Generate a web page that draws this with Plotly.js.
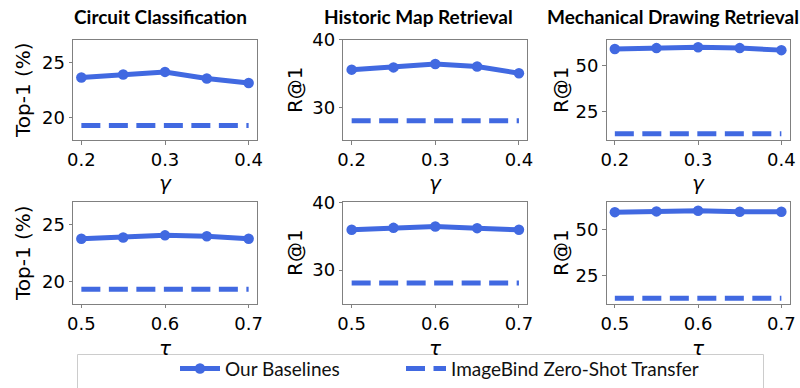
<!DOCTYPE html>
<html>
<head>
<meta charset="utf-8">
<script src="https://cdn.plot.ly/plotly-3.0.1.min.js"></script>
<style>html,body{margin:0;padding:0;background:#fff;}#chart{width:800px;height:388px;}</style>
</head>
<body>
<div id="chart"></div>
<script>
// ---- data ----
const gammaVals = [0.2, 0.25, 0.3, 0.35, 0.4];
const tauVals = [0.5, 0.55, 0.6, 0.65, 0.7];
const panelTitles = ["Circuit Classification", "Historic Map Retrieval", "Mechanical Drawing Retrieval"];
const yAxisLabels = ["Top-1 (%)", "R@1", "R@1"];
const seriesNames = ["Our Baselines", "ImageBind Zero-Shot Transfer"];
const circuitGamma = [23.63, 23.9, 24.13, 23.54, 23.13];
const circuitTau = [23.79, 23.9, 24.08, 24.0, 23.79];
const circuitZeroShot = 19.32;
const mapGamma = [35.63, 35.96, 36.45, 36.1, 35.1];
const mapTau = [35.94, 36.23, 36.42, 36.19, 35.94];
const mapZeroShot = 28.1;
const drawingGamma = [58.8, 59.3, 59.8, 59.3, 58.2];
const drawingTau = [59.3, 59.7, 60.0, 59.5, 59.5];
const drawingZeroShot = 13.0;
const yTicks = [[20, 25], [30, 40], [25, 50]];
const xTicksGamma = [0.2, 0.3, 0.4];
const xTicksTau = [0.5, 0.6, 0.7];

// ---- layout geometry ----
const W = 800, H = 388;
const colPx = [[73, 257], [343.3, 527.3], [606.5, 789.7]];
const rowPx = [[40.7, 142.7], [206, 309.3]];
const yRanges = [[[18, 27], [18.05, 27]], [[25.25, 40], [25.05, 40]], [[9.5, 63.7], [10, 64.6]]];
const titleX = [160.5, 418, 673];
const yLabelX = [23, 295, 561];

const BLUE = "#4169E1";
const rows = [
  {xs: gammaVals, ticks: xTicksGamma, range: [0.19, 0.41], label: "γ", labelY: 186,
   ours: [circuitGamma, mapGamma, drawingGamma]},
  {xs: tauVals, ticks: xTicksTau, range: [0.49, 0.71], label: "τ", labelY: 354,
   ours: [circuitTau, mapTau, drawingTau]}
];
const zeroShot = [circuitZeroShot, mapZeroShot, drawingZeroShot];

const legendFont = {family: "Lato", size: 19, color: "#111"};
const traces = [];
const layout = {
  width: W, height: H, margin: {l: 0, r: 0, t: 0, b: 0},
  paper_bgcolor: "#fff", plot_bgcolor: "#fff",
  font: {family: "DejaVu Sans", size: 18, color: "#000"},
  showlegend: true,
  legend: {orientation: "h", x: 175 / W, xanchor: "left", y: 1 - 375.5 / H, yanchor: "middle",
           font: legendFont, bgcolor: "rgba(0,0,0,0)", itemwidth: 40},
  legend2: {orientation: "h", x: 401 / W, xanchor: "left", y: 1 - 375.5 / H, yanchor: "middle",
           font: legendFont, bgcolor: "rgba(0,0,0,0)", itemwidth: 40},
  annotations: [], shapes: []
};

let k = 0;
rows.forEach((row, r) => {
  for (let c = 0; c < 3; c++) {
    k++;
    const xa = "x" + (k === 1 ? "" : k), ya = "y" + (k === 1 ? "" : k);
    const xk = "xaxis" + (k === 1 ? "" : k), yk = "yaxis" + (k === 1 ? "" : k);
    traces.push({x: row.xs, y: row.ours[c], xaxis: xa, yaxis: ya, type: "scatter", mode: "lines+markers",
      name: seriesNames[0], legend: "legend", showlegend: k === 1,
      line: {color: BLUE, width: 5}, marker: {color: BLUE, size: 10.5}});
    traces.push({x: row.xs, y: row.xs.map(() => zeroShot[c]), xaxis: xa, yaxis: ya, type: "scatter", mode: "lines",
      name: seriesNames[1], legend: "legend2", showlegend: k === 1,
      line: {color: BLUE, width: 5, dash: "19px,8.5px"}});
    layout[xk] = {domain: [colPx[c][0] / W, colPx[c][1] / W], range: row.range, anchor: ya,
      tickvals: row.ticks, ticktext: row.ticks.map(v => v.toFixed(1)), showgrid: false, zeroline: false,
      showline: true, mirror: true, linecolor: "#808080", linewidth: 1,
      ticks: "outside", ticklen: 3.5, tickcolor: "#808080", tickfont: {family: "DejaVu Sans", size: 18, color: "#000"}};
    layout[yk] = {domain: [1 - rowPx[r][1] / H, 1 - rowPx[r][0] / H], range: yRanges[c][r], anchor: xa,
      tickvals: yTicks[c], showgrid: false, zeroline: false,
      showline: true, mirror: true, linecolor: "#808080", linewidth: 1,
      ticks: "outside", ticklen: 3.5, tickcolor: "#808080", tickfont: {family: "DejaVu Sans", size: 18, color: "#000"}};
    layout.annotations.push({xref: "paper", yref: "paper", x: yLabelX[c] / W, y: 1 - (rowPx[r][0] + rowPx[r][1]) / 2 / H,
      text: yAxisLabels[c], textangle: -90, showarrow: false, xanchor: "center", yanchor: "middle",
      font: {family: "DejaVu Sans", size: 20, color: "#000"}});
    layout.annotations.push({xref: "paper", yref: "paper", x: (colPx[c][0] + colPx[c][1]) / 2 / W,
      y: 1 - row.labelY / H, text: row.label, showarrow: false, xanchor: "center", yanchor: "middle",
      font: {family: "DejaVu Sans", size: 20, color: "#000", style: "italic"}});
  }
});
panelTitles.forEach((t, c) => {
  layout.annotations.push({xref: "paper", yref: "paper", x: titleX[c] / W, y: 1 - 17 / H, text: "<b>" + t + "</b>",
    showarrow: false, xanchor: "center", yanchor: "middle", font: {family: "Lato", size: 19, color: "#000"}});
});
layout.shapes.push({type: "rect", xref: "paper", yref: "paper", x0: 77.5 / W, x1: 763.5 / W, y0: -0.05, y1: 1 - 361 / H,
  line: {color: "#cccccc", width: 1}, fillcolor: "rgba(0,0,0,0)"});

Plotly.newPlot("chart", traces, layout, {displayModeBar: false, staticPlot: true});
</script>
</body>
</html>
